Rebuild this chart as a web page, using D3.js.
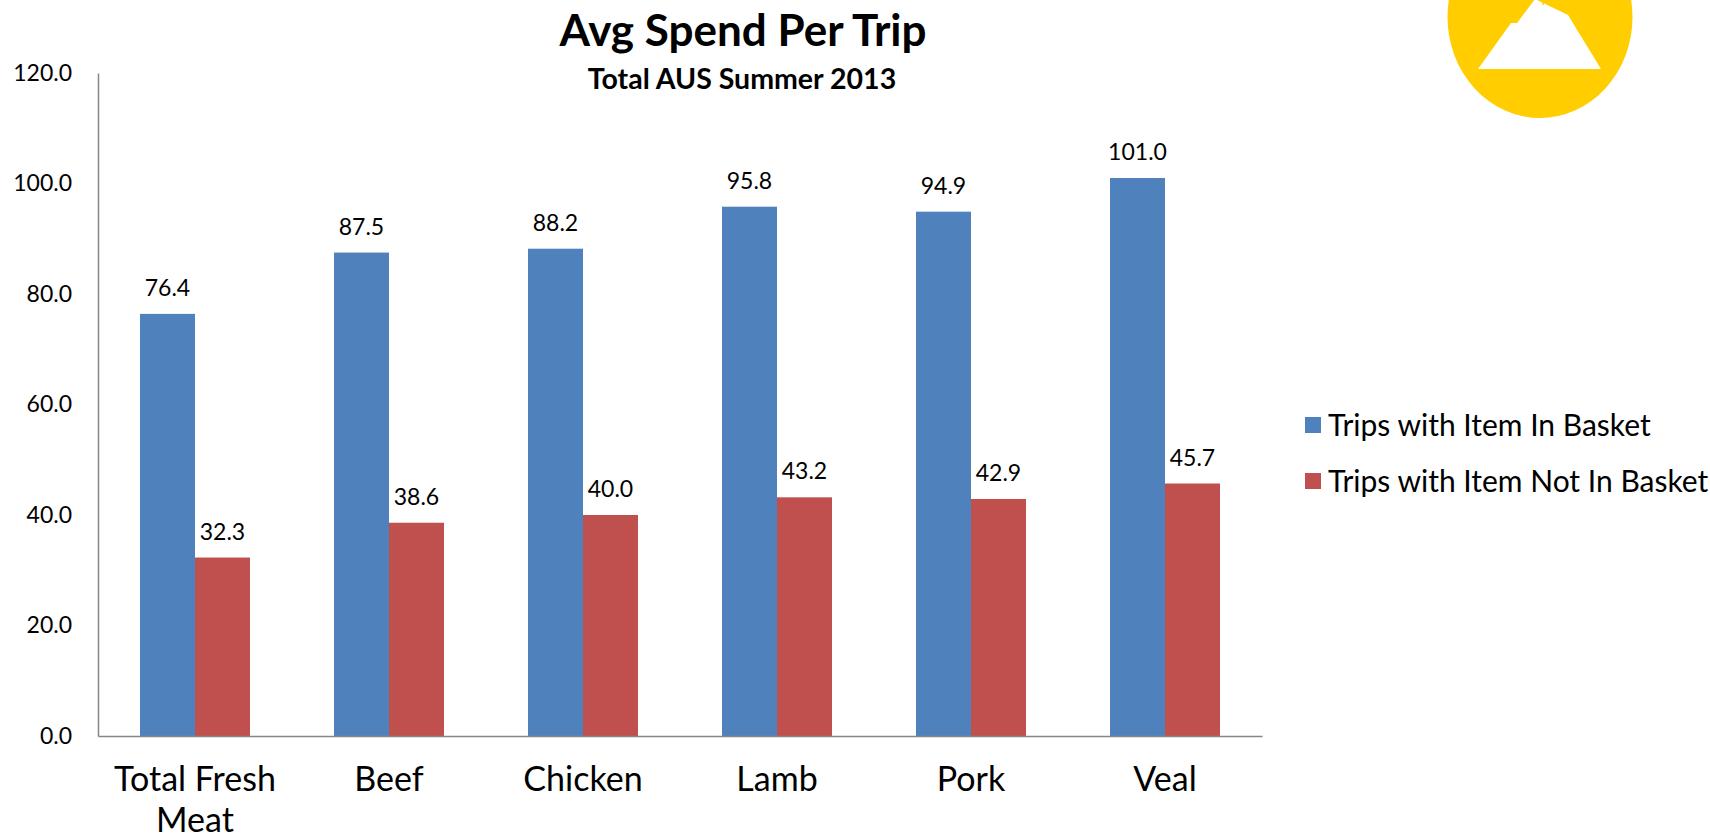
<!DOCTYPE html>
<html>
<head>
<meta charset="utf-8">
<script src="https://cdn.jsdelivr.net/npm/d3@7"></script>
<style>
  html, body { margin: 0; padding: 0; background: #fff; }
  svg { display: block; }
  text { font-family: Lato, "Open Sans", sans-serif; fill: #000; }
</style>
</head>
<body>
<svg id="chart" width="1710" height="840"></svg>
<script>
// ---- data ----
const categories = ["Total Fresh Meat", "Beef", "Chicken", "Lamb", "Pork", "Veal"];
const categoryLines = [["Total Fresh", "Meat"], ["Beef"], ["Chicken"], ["Lamb"], ["Pork"], ["Veal"]];
const seriesNames = ["Trips with Item In Basket", "Trips with Item Not In Basket"];
const inBasket = [76.4, 87.5, 88.2, 95.8, 94.9, 101.0];
const notInBasket = [32.3, 38.6, 40.0, 43.2, 42.9, 45.7];
const yTicks = [0, 20, 40, 60, 80, 100, 120];
const seriesColors = ["#4F81BD", "#C0504D"];
const titleText = "Avg Spend Per Trip";
const subtitleText = "Total AUS Summer 2013";

const seriesValues = [inBasket, notInBasket];

const svg = d3.select("#chart");

// ---- layout ----
const plot = { left: 98, right: 1262, top: 73, bottom: 736 };

const x0 = d3.scaleBand()
  .domain(categories)
  .range([plot.left, plot.right])
  .paddingInner(0.433)
  .paddingOuter(0.2165);

const x1 = d3.scaleBand()
  .domain(seriesNames)
  .range([0, x0.bandwidth()])
  .padding(0);

const y = d3.scaleLinear()
  .domain([0, 120])
  .range([plot.bottom, plot.top]);

// ---- logo (decorative) ----
const logo = svg.append("g");
logo.append("ellipse")
  .attr("cx", 1540).attr("cy", 17).attr("rx", 92.5).attr("ry", 101)
  .attr("fill", "#FFCD00");
logo.append("polygon")
  .attr("points", "1478,69 1511,23 1517,23 1535,-1 1568,15 1601,69")
  .attr("fill", "#fff");
logo.append("line")
  .attr("x1", 1543).attr("x2", 1543).attr("y1", -1).attr("y2", 5)
  .attr("stroke", "#FFCD00").attr("stroke-width", 1.5);

// ---- title ----
svg.append("text")
  .attr("x", 743).attr("y", 46)
  .attr("text-anchor", "middle")
  .style("font-size", "44px").style("font-weight", "bold")
  .text(titleText);
svg.append("text")
  .attr("x", 742).attr("y", 89)
  .attr("text-anchor", "middle")
  .style("font-size", "28.5px").style("font-weight", "bold")
  .text(subtitleText);

// ---- y axis ----
const yAxis = d3.axisLeft(y)
  .tickValues(yTicks)
  .tickFormat(d3.format(".1f"))
  .tickSize(0)
  .tickPadding(26);
const gy = svg.append("g")
  .attr("transform", `translate(${plot.left},0)`)
  .call(yAxis);
gy.select(".domain").attr("stroke", "#868686").attr("stroke-width", 1.5);
gy.selectAll(".tick text")
  .style("font-family", "Lato, sans-serif")
  .style("font-size", "23px")
  .attr("fill", "#000");

// ---- bars ----
const groups = svg.append("g").selectAll("g")
  .data(categories)
  .join("g")
  .attr("transform", d => `translate(${x0(d)},0)`);

groups.selectAll("rect")
  .data((d, i) => seriesNames.map((s, j) => ({ s, v: seriesValues[j][i], j })))
  .join("rect")
  .attr("x", d => x1(d.s))
  .attr("width", x1.bandwidth())
  .attr("y", d => y(d.v))
  .attr("height", d => y(0) - y(d.v))
  .attr("fill", d => seriesColors[d.j]);

groups.selectAll("text.val")
  .data((d, i) => seriesNames.map((s, j) => ({ s, v: seriesValues[j][i], j })))
  .join("text")
  .attr("class", "val")
  .attr("x", d => x1(d.s) + x1.bandwidth() / 2)
  .attr("y", d => y(d.v) - 18)
  .attr("text-anchor", "middle")
  .style("font-size", "23px")
  .text(d => d3.format(".1f")(d.v));

// ---- x axis ----
const xAxis = d3.axisBottom(x0).tickSize(0).tickFormat("");
const gx = svg.append("g")
  .attr("transform", `translate(0,${plot.bottom})`)
  .call(xAxis);
gx.select(".domain").attr("stroke", "#868686").attr("stroke-width", 1.5);

const catLabels = svg.append("g").selectAll("text")
  .data(categories)
  .join("text")
  .attr("text-anchor", "middle")
  .attr("y", 791)
  .style("font-size", "34px");
catLabels.each(function (d, i) {
  const t = d3.select(this);
  categoryLines[i].forEach((line, k) => {
    t.append("tspan")
      .attr("x", x0(d) + x0.bandwidth() / 2)
      .attr("dy", k === 0 ? 0 : 41)
      .text(line);
  });
});

// ---- legend ----
const legend = svg.append("g").selectAll("g")
  .data(seriesNames)
  .join("g")
  .attr("transform", (d, i) => `translate(1305,${425 + i * 56})`);
legend.append("rect")
  .attr("x", 0).attr("y", -8).attr("width", 16).attr("height", 16)
  .attr("fill", (d, i) => seriesColors[i]);
legend.append("text")
  .attr("x", 23).attr("y", 0)
  .attr("dy", "0.35em")
  .style("font-size", "30px")
  .text(d => d);
</script>
</body>
</html>
